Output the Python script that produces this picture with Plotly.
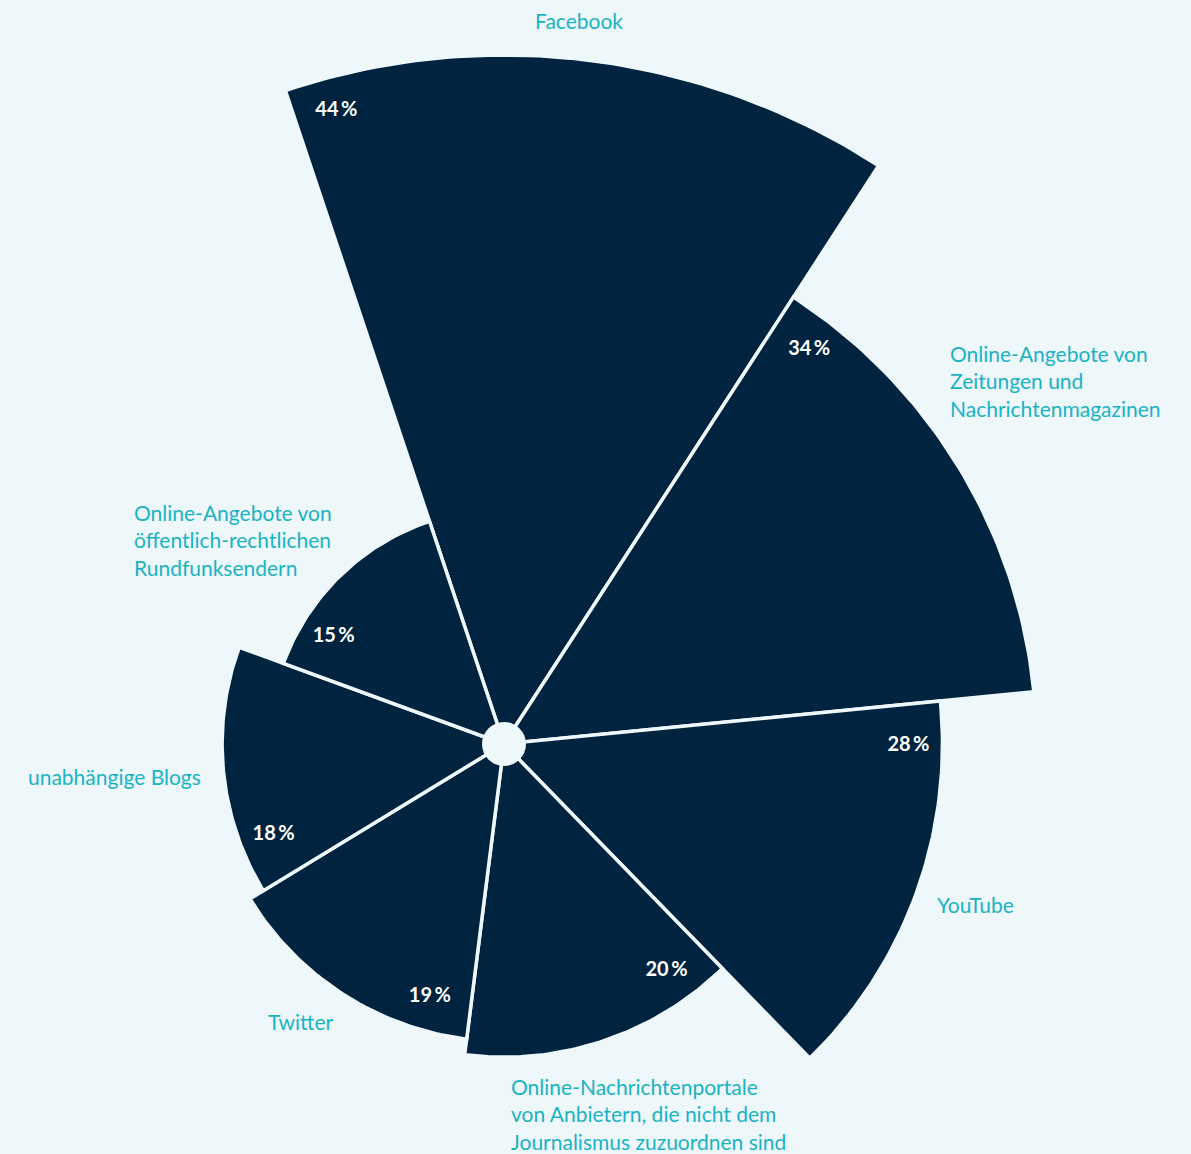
import math
import plotly.graph_objects as go

# ---------------- data ----------------
categories = [
    "Facebook",
    "Online-Angebote von Zeitungen und Nachrichtenmagazinen",
    "YouTube",
    "Online-Nachrichtenportale von Anbietern, die nicht dem Journalismus zuzuordnen sind",
    "Twitter",
    "unabhängige Blogs",
    "Online-Angebote von öffentlich-rechtlichen Rundfunksendern",
]
values = [44, 34, 28, 20, 19, 18, 15]
category_text = [
    "Facebook",
    "Online-Angebote von<br>Zeitungen und<br>Nachrichtenmagazinen",
    "YouTube",
    "Online-Nachrichtenportale<br>von Anbietern, die nicht dem<br>Journalismus zuzuordnen sind",
    "Twitter",
    "unabhängige Blogs",
    "Online-Angebote von<br>öffentlich-rechtlichen<br>Rundfunksendern",
]

# ---------------- layout constants ----------------
W, H = 1191, 1154
BG = "#eef8fb"
NAVY = "#00233f"
TEAL = "#1ab3c3"
FONT = "Lato"

CX, CY = 504, 744          # centre of the rose (px)
K = 15.66                  # radial scale (px per percent)
FIRST_EDGE = -18.5         # compass angle of the first sector's leading edge
STEP = 360 / len(values)
ARC_SAMPLES = 60


def polar_xy(r, ang_deg):
    a = math.radians(ang_deg)
    return r * math.sin(a), r * math.cos(a)


fig = go.Figure()

# sectors (rose petals), one filled shape per category, radius = value
for i, (cat, v) in enumerate(zip(categories, values)):
    a0 = FIRST_EDGE + STEP * i
    xs, ys = [0.0], [0.0]
    for j in range(ARC_SAMPLES + 1):
        x, y = polar_xy(v, a0 + STEP * j / ARC_SAMPLES)
        xs.append(x)
        ys.append(y)
    xs.append(0.0)
    ys.append(0.0)
    fig.add_trace(go.Scatter(
        x=xs, y=ys, mode="lines", fill="toself", fillcolor=NAVY,
        line=dict(color=BG, width=3.5), name=cat,
        hoveron="fills", hoverinfo="text", text=f"{cat}: {v} %",
        showlegend=False,
    ))

# light hub in the centre
fig.add_trace(go.Scatter(
    x=[0], y=[0], mode="markers",
    marker=dict(size=44, color=BG, line=dict(width=0)),
    hoverinfo="skip", showlegend=False,
))

# value labels near the leading outer corner of each sector
lx, ly = [], []
for i, v in enumerate(values):
    r_px = v * K - 34
    ang = FIRST_EDGE + STEP * i + math.degrees(42 / r_px)
    x, y = polar_xy(r_px / K, ang)
    lx.append(x)
    ly.append(y)
fig.add_trace(go.Scatter(
    x=lx, y=ly, mode="text", text=[f"{v}\u2009%" for v in values],
    textfont=dict(family=FONT, size=20, color="white", weight="bold"),
    hoverinfo="skip", showlegend=False, cliponaxis=False,
))

# category label positions (px from top-left; vertical centre)
label_pos = [
    (579, 21, "center"),
    (948, 381, "left"),
    (935, 904, "left"),
    (509, 1114, "left"),
    (266, 1021, "left"),
    (26, 776, "left"),
    (132, 540, "left"),
]
annotations = []
for txt, (x, y, anc) in zip(category_text, label_pos):
    annotations.append(dict(
        text=txt, x=x / W, y=1 - y / H, xref="paper", yref="paper",
        xanchor=anc, yanchor="middle", align="left", showarrow=False,
        font=dict(family=FONT, size=21, color=TEAL),
    ))

fig.update_layout(
    width=W, height=H,
    margin=dict(l=0, r=0, t=0, b=0),
    paper_bgcolor=BG, plot_bgcolor=BG,
    showlegend=False,
    annotations=annotations,
    xaxis=dict(visible=False, range=[-CX / K, (W - CX) / K], fixedrange=True),
    yaxis=dict(visible=False, range=[-(H - CY) / K, CY / K], fixedrange=True),
)

fig.write_html(
    "out.html",
    config={"displayModeBar": False},
    post_script=(
        "document.body.style.margin='0';"
        "document.body.style.backgroundColor='" + BG + "';"
        "document.body.style.overflow='hidden';"
    ),
)
